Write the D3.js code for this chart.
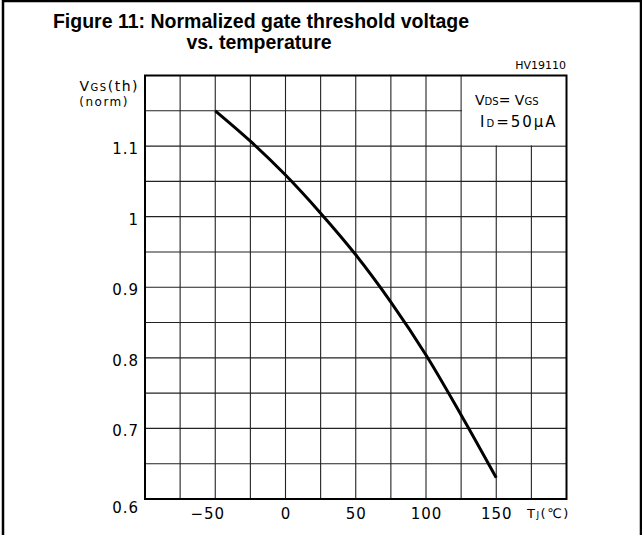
<!DOCTYPE html>
<html>
<head>
<meta charset="utf-8">
<script src="https://cdn.jsdelivr.net/npm/d3@7"></script>
<style>
  body { margin: 0; background: #fff; }
  svg { display: block; }
</style>
</head>
<body>
<div id="chart"></div>
<script>
// data
var tempC = [-50, -25, 0, 25, 50, 75, 100, 125, 150];
var vgsNorm = [1.15, 1.107, 1.059, 1.005, 0.946, 0.879, 0.804, 0.719, 0.63];

var xTicks = [-50, 0, 50, 100, 150];
var yTicks = [0.6, 0.7, 0.8, 0.9, 1, 1.1];

var W = 642, H = 535;
var margin = {top: 75.5, left: 145, right: 75.5, bottom: 36};
var plotW = W - margin.left - margin.right,
    plotH = H - margin.top - margin.bottom;

var svg = d3.select("#chart").append("svg")
  .attr("width", W)
  .attr("height", H);

// outer frame (no bottom edge, like the source page)
svg.append("path")
  .attr("d", "M3,535 V1 H641 V535")
  .attr("fill", "none")
  .attr("stroke", "#000")
  .attr("stroke-width", 2.5);

// title
var title = svg.append("text")
  .attr("text-anchor", "middle")
  .style("font-family", "Liberation Sans, Arial, sans-serif")
  .style("font-weight", "bold")
  .style("font-size", "19.5px");
title.append("tspan").attr("x", 261).attr("y", 28).text("Figure 11: Normalized gate threshold voltage");
title.append("tspan").attr("x", 259).attr("y", 48.5).text("vs. temperature");

svg.append("text")
  .attr("x", 566).attr("y", 69)
  .attr("text-anchor", "end")
  .style("font-family", "DejaVu Sans, sans-serif")
  .style("font-size", "11px")
  .text("HV19110");

var g = svg.append("g")
  .attr("transform", "translate(" + margin.left + "," + margin.top + ")");

var x = d3.scaleLinear().domain([-100, 200]).range([0, plotW]);
var y = d3.scaleLinear().domain([0.6, 1.2]).range([plotH, 0]);

// grid every 25 degC and every 0.05
var gx = d3.range(-75, 200, 25);
var gy = d3.range(0.65, 1.2, 0.05);

g.selectAll(".vgrid").data(gx).enter().append("line")
  .attr("x1", d => x(d)).attr("x2", d => x(d))
  .attr("y1", 0).attr("y2", plotH)
  .attr("stroke", "#222").attr("stroke-width", 1.1);

g.selectAll(".hgrid").data(gy).enter().append("line")
  .attr("x1", 0).attr("x2", plotW)
  .attr("y1", d => y(d)).attr("y2", d => y(d))
  .attr("stroke", "#222").attr("stroke-width", 1.1);

// legend box knocks out the grid in the upper right corner
g.append("rect")
  .attr("x", x(125) + 0.8)
  .attr("y", 0)
  .attr("width", x(200) - x(125) - 0.8)
  .attr("height", y(1.1) - 0.8)
  .attr("fill", "#fff");

// plot frame
g.append("rect")
  .attr("width", plotW).attr("height", plotH)
  .attr("fill", "none")
  .attr("stroke", "#000")
  .attr("stroke-width", 2);

// curve
var line = d3.line()
  .x(d => x(d[0]))
  .y(d => y(d[1]))
  .curve(d3.curveCatmullRom);

g.append("path")
  .datum(tempC.map((t, i) => [t, vgsNorm[i]]))
  .attr("d", line)
  .attr("fill", "none")
  .attr("stroke", "#000")
  .attr("stroke-width", 3);

// axes, labels only
var xAxis = g.append("g")
  .attr("transform", "translate(0," + plotH + ")")
  .call(d3.axisBottom(x).tickValues(xTicks).tickSize(0).tickPadding(9)
    .tickFormat(d => d < 0 ? "\u2212" + Math.abs(d) : d));
xAxis.select(".domain").remove();
xAxis.selectAll("text")
  .style("font-family", "DejaVu Sans, sans-serif")
  .style("font-size", "15px")
  .style("letter-spacing", "1px")
  .attr("fill", "#000")
  .attr("dx", d => d < 0 ? -8 : 0);

var yAxis = g.append("g")
  .call(d3.axisLeft(y).tickValues(yTicks).tickSize(0).tickPadding(6)
    .tickFormat(d => d === 1 ? "1" : d3.format(".1f")(d)));
yAxis.select(".domain").remove();
yAxis.selectAll("text")
  .style("font-family", "DejaVu Sans, sans-serif")
  .style("font-size", "15px")
  .style("letter-spacing", "1px")
  .attr("fill", "#000")
  .attr("dy", d => d === 0.6 ? "0.9em" : "0.5em");

// axis titles
var thin = "DejaVu Sans, sans-serif";
var yl = svg.append("text")
  .attr("text-anchor", "end")
  .style("font-family", thin)
  .style("font-size", "14px")
  .style("letter-spacing", "1.5px");
yl.append("tspan").attr("x", 139).attr("y", 91).text("V");
yl.append("tspan").style("font-size", "10px").text("GS");
yl.append("tspan").text("(th)");
svg.append("text")
  .attr("x", 129).attr("y", 106)
  .attr("text-anchor", "end")
  .style("font-family", thin)
  .style("font-size", "12px")
  .style("letter-spacing", "1.5px")
  .text("(norm)");

var xl = svg.append("text")
  .attr("x", 527).attr("y", 518)
  .style("font-family", thin)
  .style("font-size", "13px")
  .style("letter-spacing", "1.5px");
xl.append("tspan").text("T");
xl.append("tspan").style("font-size", "9px").text("J");
xl.append("tspan").text("(\u2103)");

// test conditions
var lg = svg.append("text")
  .style("font-family", thin)
  .style("font-size", "14px");
lg.append("tspan").attr("x", 475).attr("y", 105).text("V");
lg.append("tspan").style("font-size", "10px").text("DS");
lg.append("tspan").text("= V");
lg.append("tspan").style("font-size", "10px").text("GS");

var lg2 = svg.append("text")
  .style("font-family", thin)
  .style("font-size", "15px")
  .style("letter-spacing", "2px");
lg2.append("tspan").attr("x", 480).attr("y", 127).text("I");
lg2.append("tspan").style("font-size", "10px").text("D");
lg2.append("tspan").text("=50\u03bcA");
</script>
</body>
</html>
